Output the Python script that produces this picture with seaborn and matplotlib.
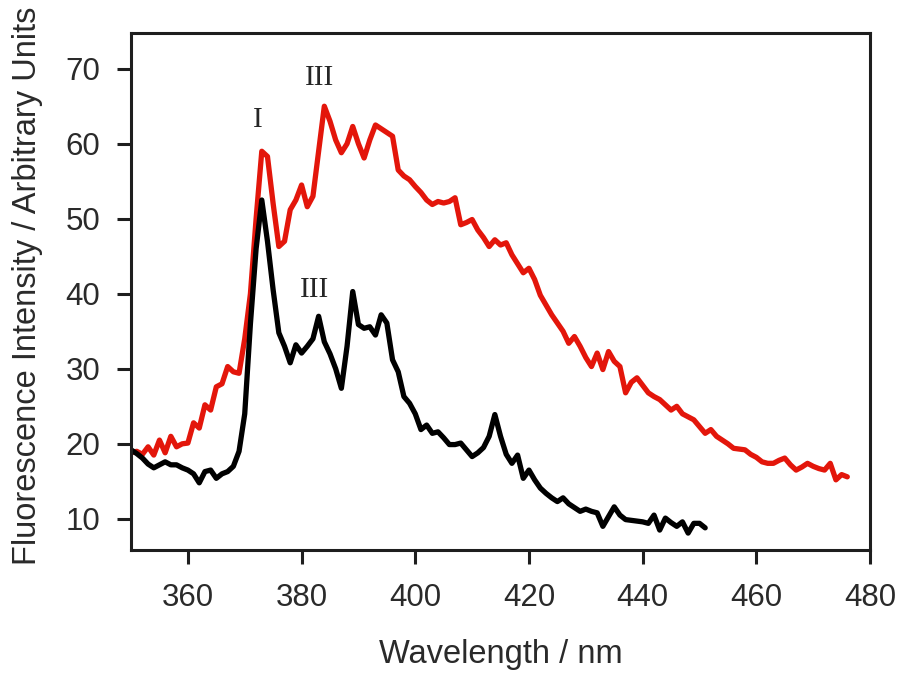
import numpy as np
import pandas as pd
import matplotlib
matplotlib.use("Agg")
import matplotlib.pyplot as plt
import seaborn as sns

# ---- data ----
red_wl = [350, 351, 352, 353, 354, 355, 356, 357, 358, 359, 360, 361, 362, 363, 364, 365, 366, 367, 368, 369,
          370, 371, 372, 373, 374, 375, 376, 377, 378, 379, 380, 381, 382, 383, 384, 385, 386, 387, 388, 389,
          390, 391, 392, 393, 394, 395, 396, 397, 398, 399, 400, 401, 402, 403, 404, 405, 406, 407, 408, 409,
          410, 411, 412, 413, 414, 415, 416, 417, 418, 419, 420, 421, 422, 423, 424, 425, 426, 427, 428, 429,
          430, 431, 432, 433, 434, 435, 436, 437, 438, 439, 440, 441, 442, 443, 444, 445, 446, 447, 448, 449,
          450, 451, 452, 453, 454, 455, 456, 457, 458, 459, 460, 461, 462, 463, 464, 465, 466, 467, 468, 469,
          470, 471, 472, 473, 474, 475, 476]
red_int = [18.8, 19.0, 18.6, 19.6, 18.5, 20.5, 18.8, 21.0, 19.6, 20.0, 20.1, 22.8, 22.1, 25.2, 24.5, 27.6, 28.0, 30.3, 29.6, 29.4,
           34.0, 40.0, 50.0, 59.0, 58.3, 52.0, 46.3, 47.0, 51.2, 52.5, 54.5, 51.6, 53.0, 59.0, 65.0, 63.0, 60.5, 58.8, 60.0, 62.3,
           60.0, 58.1, 60.5, 62.5, 62.0, 61.5, 61.0, 56.5, 55.7, 55.2, 54.3, 53.5, 52.5, 51.9, 52.3, 52.1, 52.3, 52.8, 49.2, 49.5,
           49.9, 48.5, 47.5, 46.3, 47.2, 46.5, 46.8, 45.2, 44.0, 42.8, 43.4, 41.9, 39.8, 38.5, 37.2, 36.1, 35.0, 33.4, 34.3, 33.0,
           31.5, 30.3, 32.1, 29.9, 32.3, 31.0, 30.3, 26.8, 28.2, 28.8, 27.8, 26.8, 26.3, 25.9, 25.2, 24.5, 25.0, 24.0, 23.6, 23.2,
           22.3, 21.4, 21.9, 21.0, 20.5, 20.0, 19.4, 19.3, 19.2, 18.6, 18.2, 17.6, 17.4, 17.4, 17.8, 18.1, 17.2, 16.5, 16.9, 17.4,
           17.0, 16.7, 16.5, 17.4, 15.2, 15.9, 15.6]

black_wl = [350, 351, 352, 353, 354, 355, 356, 357, 358, 359, 360, 361, 362, 363, 364, 365, 366, 367, 368, 369,
            370, 371, 372, 373, 374, 375, 376, 377, 378, 379, 380, 381, 382, 383, 384, 385, 386, 387, 388, 389,
            390, 391, 392, 393, 394, 395, 396, 397, 398, 399, 400, 401, 402, 403, 404, 405, 406, 407, 408, 409,
            410, 411, 412, 413, 414, 415, 416, 417, 418, 419, 420, 421, 422, 423, 424, 425, 426, 427, 428, 429,
            430, 431, 432, 433, 434, 435, 436, 437, 438, 439, 440, 441, 442, 443, 444, 445, 446, 447, 448, 449,
            450, 451]
black_int = [19.2, 18.7, 18.1, 17.3, 16.8, 17.2, 17.6, 17.2, 17.2, 16.8, 16.5, 16.0, 14.8, 16.3, 16.5, 15.4, 16.0, 16.3, 17.0, 19.0,
             24.0, 36.0, 46.0, 52.5, 47.0, 40.5, 34.8, 33.0, 30.8, 33.2, 32.1, 33.0, 34.0, 37.0, 33.6, 32.0, 30.0, 27.4, 33.0, 40.3,
             35.9, 35.4, 35.6, 34.5, 37.2, 36.1, 31.2, 29.6, 26.3, 25.4, 24.0, 21.9, 22.5, 21.4, 21.6, 20.8, 19.9, 19.9, 20.1, 19.2,
             18.3, 18.8, 19.5, 21.0, 23.9, 21.0, 18.6, 17.4, 18.5, 15.4, 16.5, 15.2, 14.1, 13.4, 12.8, 12.3, 12.8, 12.0, 11.5, 11.0,
             11.3, 11.0, 10.8, 9.0, 10.3, 11.6, 10.5, 9.9, 9.8, 9.7, 9.6, 9.4, 10.5, 8.5, 10.1, 9.5, 9.0, 9.6, 8.1, 9.4,
             9.4, 8.8]

x_ticks = [360, 380, 400, 420, 440, 460, 480]
y_ticks = [10, 20, 30, 40, 50, 60, 70]

ann_labels = ["I", "III", "III"]
ann_x = [372.3, 383.2, 382.2]
ann_y = [63.2, 68.7, 40.5]

# ---- plot ----
sns.set_style("white")
plt.rcParams["font.family"] = ["Liberation Sans", "DejaVu Sans"]

fig = plt.figure(figsize=(9.0, 6.73), dpi=100)
ax = fig.add_axes([0.1456, 0.1828, 0.8211, 0.7686])

df_red = pd.DataFrame({"wl": red_wl, "I": red_int})
df_blk = pd.DataFrame({"wl": black_wl, "I": black_int})
sns.lineplot(data=df_red, x="wl", y="I", ax=ax, color="#e3160b", linewidth=3.8,
             estimator=None, sort=False)
sns.lineplot(data=df_blk, x="wl", y="I", ax=ax, color="black", linewidth=3.8,
             estimator=None, sort=False)

ax.set_xlim(350, 480)
ax.set_ylim(5.85, 74.8)
ax.set_xticks(x_ticks)
ax.set_yticks(y_ticks)

for s in ax.spines.values():
    s.set_color("#1e1e1e")
    s.set_linewidth(2.2)

ax.tick_params(axis="both", which="major", direction="out", length=10, width=2.2,
               color="#1e1e1e", labelsize=22.5, labelcolor="#2a2a2a",
               bottom=True, left=True)
ax.tick_params(axis="x", pad=14)
ax.tick_params(axis="y", pad=12)

ax.set_xlabel("Wavelength / nm", fontsize=23.5, color="#2a2a2a")
ax.set_ylabel("Fluorescence Intensity / Arbitrary Units", fontsize=23.5, color="#2a2a2a")
ax.xaxis.label.set_va("center")
ax.yaxis.label.set_va("center")
ax.xaxis.set_label_coords(0.5, -0.203)
ax.yaxis.set_label_coords(-0.1407, 0.51)

for lab, xx, yy in zip(ann_labels, ann_x, ann_y):
    ax.text(xx, yy, lab, ha="center", va="center", fontsize=21, color="#262626",
            family=["Liberation Serif", "DejaVu Serif"])

fig.savefig("out.png", dpi=100, facecolor="white")
